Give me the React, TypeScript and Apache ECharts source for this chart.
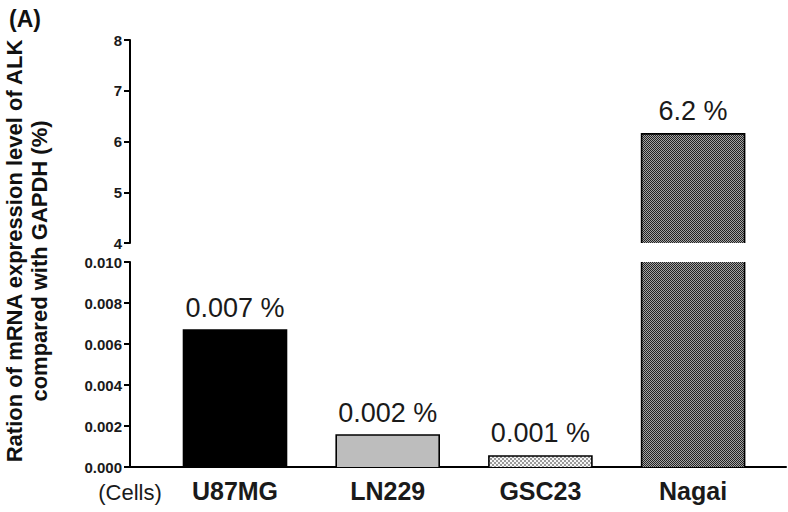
import React, { useEffect, useRef } from "react";
import * as echarts from "echarts";

// ---- data ----
const categories = ["U87MG", "LN229", "GSC23", "Nagai"];
const ratioValues = [0.00668, 0.00156, 0.00054, 6.15];
const valueLabels = ["0.007 %", "0.002 %", "0.001 %", "6.2 %"];
const upperRange = [4, 8];
const upperInterval = 1;
const lowerRange = [0, 0.01];
const lowerInterval = 0.002;
const xAxisPrefix = "(Cells)";
const panelTag = "(A)";
const yTitleLines = ["Ration of mRNA expression level of ALK", "compared with GAPDH (%)"];

// ---- layout (pixels) ----
const W = 788;
const H = 512;
const PLOT_LEFT = 130;
const PLOT_RIGHT = 786;
const TOP_TOP = 40;
const TOP_BOTTOM = 243;
const LOW_TOP = 262;
const LOW_BOTTOM = 467;
const FIRST_CENTER = 235;
const STEP = 152.7;
const BAR_W = 103;
const X_MIN = (PLOT_LEFT - FIRST_CENTER) / STEP;
const X_MAX = (PLOT_RIGHT - FIRST_CENTER) / STEP;

function makeChecker(cell: number, a: string, b: string) {
  const c = document.createElement("canvas");
  c.width = cell * 2;
  c.height = cell * 2;
  const ctx = c.getContext("2d")!;
  ctx.fillStyle = b;
  ctx.fillRect(0, 0, c.width, c.height);
  ctx.fillStyle = a;
  ctx.fillRect(0, 0, cell, cell);
  ctx.fillRect(cell, cell, cell, cell);
  return { image: c, repeat: "repeat", imageWidth: c.width, imageHeight: c.height } as any;
}

export default function App() {
  const ref = useRef<HTMLDivElement>(null);
  useEffect(() => {
    if (!ref.current) return;
    const chart = echarts.init(ref.current, null, { renderer: "svg", width: W, height: H });
    const fills: any[] = [
      "#000000",
      "#bdbdbd",
      makeChecker(2, "#9a9a9a", "#f6f6f6"),
      makeChecker(1, "#222222", "#a4a4a4"),
    ];
    const sans = "'Liberation Sans', Arial, sans-serif";
    const tickFont = { fontFamily: sans, fontWeight: "bold" as const, fontSize: 15, color: "#1a1a1a" };
    const yLine = { show: true, onZero: false, lineStyle: { color: "#000", width: 2 } };
    const yTick = { show: true, inside: false, length: 6, lineStyle: { color: "#000", width: 2 } };

    const makeRender = (lo: number, hi: number) => (params: any, api: any) => {
      const i = api.value(0);
      const v = api.value(1);
      if (v <= lo) return null;
      const clippedTop = v > hi;
      const top = Math.min(v, hi);
      const pTop = api.coord([i, top]);
      const pBase = api.coord([i, lo]);
      const x0 = pTop[0] - BAR_W / 2;
      const x1 = pTop[0] + BAR_W / 2;
      const stroke = { stroke: "#000", lineWidth: 1.6, fill: "none" };
      const children: any[] = [
        {
          type: "rect",
          shape: { x: x0, y: pTop[1], width: BAR_W, height: pBase[1] - pTop[1] },
          style: { fill: fills[params.dataIndex], stroke: "none" },
        },
      ];
      if (clippedTop) {
        children.push({ type: "line", shape: { x1: x0, y1: pTop[1], x2: x0, y2: pBase[1] }, style: stroke });
        children.push({ type: "line", shape: { x1: x1, y1: pTop[1], x2: x1, y2: pBase[1] }, style: stroke });
      } else {
        children.push({
          type: "polyline",
          shape: { points: [[x0, pBase[1]], [x0, pTop[1]], [x1, pTop[1]], [x1, pBase[1]]] },
          style: stroke,
        });
        children.push({
          type: "text",
          x: pTop[0],
          y: pTop[1] - 9,
          style: {
            text: valueLabels[params.dataIndex],
            fontFamily: sans,
            fontSize: 27,
            fill: "#1a1a1a",
            textAlign: "center",
            textVerticalAlign: "bottom",
          },
        });
      }
      return { type: "group", children };
    };

    const seriesData = ratioValues.map((v, i) => [i, v]);

    chart.setOption({
      animation: false,
      backgroundColor: "#ffffff",
      grid: [
        { left: PLOT_LEFT, width: PLOT_RIGHT - PLOT_LEFT, top: TOP_TOP, height: TOP_BOTTOM - TOP_TOP },
        { left: PLOT_LEFT, width: PLOT_RIGHT - PLOT_LEFT, top: LOW_TOP, height: LOW_BOTTOM - LOW_TOP },
      ],
      xAxis: [
        { type: "value", gridIndex: 0, min: X_MIN, max: X_MAX, show: false },
        {
          type: "value",
          gridIndex: 1,
          min: X_MIN,
          max: X_MAX,
          axisLine: { show: true, onZero: false, lineStyle: { color: "#000", width: 2 } },
          axisTick: { show: false },
          splitLine: { show: false },
          axisLabel: {
            customValues: categories.map((_, i) => i),
            formatter: (v: number) => categories[Math.round(v)] ?? "",
            fontFamily: sans,
            fontWeight: "bold",
            fontSize: 25,
            color: "#1a1a1a",
            margin: 11,
          },
        },
      ],
      yAxis: [
        {
          type: "value",
          gridIndex: 0,
          min: upperRange[0],
          max: upperRange[1],
          interval: upperInterval,
          axisLine: yLine,
          axisTick: yTick,
          splitLine: { show: false },
          axisLabel: { ...tickFont, margin: 8 },
        },
        {
          type: "value",
          gridIndex: 1,
          min: lowerRange[0],
          max: lowerRange[1],
          interval: lowerInterval,
          axisLine: yLine,
          axisTick: yTick,
          splitLine: { show: false },
          axisLabel: { ...tickFont, margin: 8, formatter: (v: number) => v.toFixed(3) },
        },
      ],
      series: [
        {
          type: "custom",
          xAxisIndex: 0,
          yAxisIndex: 0,
          encode: { x: 0, y: 1 },
          data: seriesData,
          renderItem: makeRender(upperRange[0], upperRange[1]),
        },
        {
          type: "custom",
          xAxisIndex: 1,
          yAxisIndex: 1,
          encode: { x: 0, y: 1 },
          data: seriesData,
          renderItem: makeRender(lowerRange[0], lowerRange[1]),
        },
      ],
      graphic: [
        {
          type: "text",
          left: 9,
          top: 7,
          style: { text: panelTag, fontFamily: sans, fontWeight: "bold", fontSize: 23, fill: "#111" },
        },
        {
          type: "text",
          x: 14,
          y: 251,
          rotation: Math.PI / 2,
          style: {
            text: yTitleLines[0],
            fontFamily: sans,
            fontWeight: "bold",
            fontSize: 22,
            fill: "#111",
            textAlign: "center",
            textVerticalAlign: "middle",
          },
        },
        {
          type: "text",
          x: 39,
          y: 261,
          rotation: Math.PI / 2,
          style: {
            text: yTitleLines[1],
            fontFamily: sans,
            fontWeight: "bold",
            fontSize: 22,
            fill: "#111",
            textAlign: "center",
            textVerticalAlign: "middle",
          },
        },
        {
          type: "text",
          x: 130,
          y: 492,
          style: {
            text: xAxisPrefix,
            fontFamily: sans,
            fontSize: 22,
            fill: "#1a1a1a",
            textAlign: "center",
            textVerticalAlign: "middle",
          },
        },
      ],
    });
    return () => chart.dispose();
  }, []);
  return (
    <div
      ref={ref}
      style={{ position: "fixed", left: 0, top: 0, width: W, height: H, background: "#fff" }}
    />
  );
}
